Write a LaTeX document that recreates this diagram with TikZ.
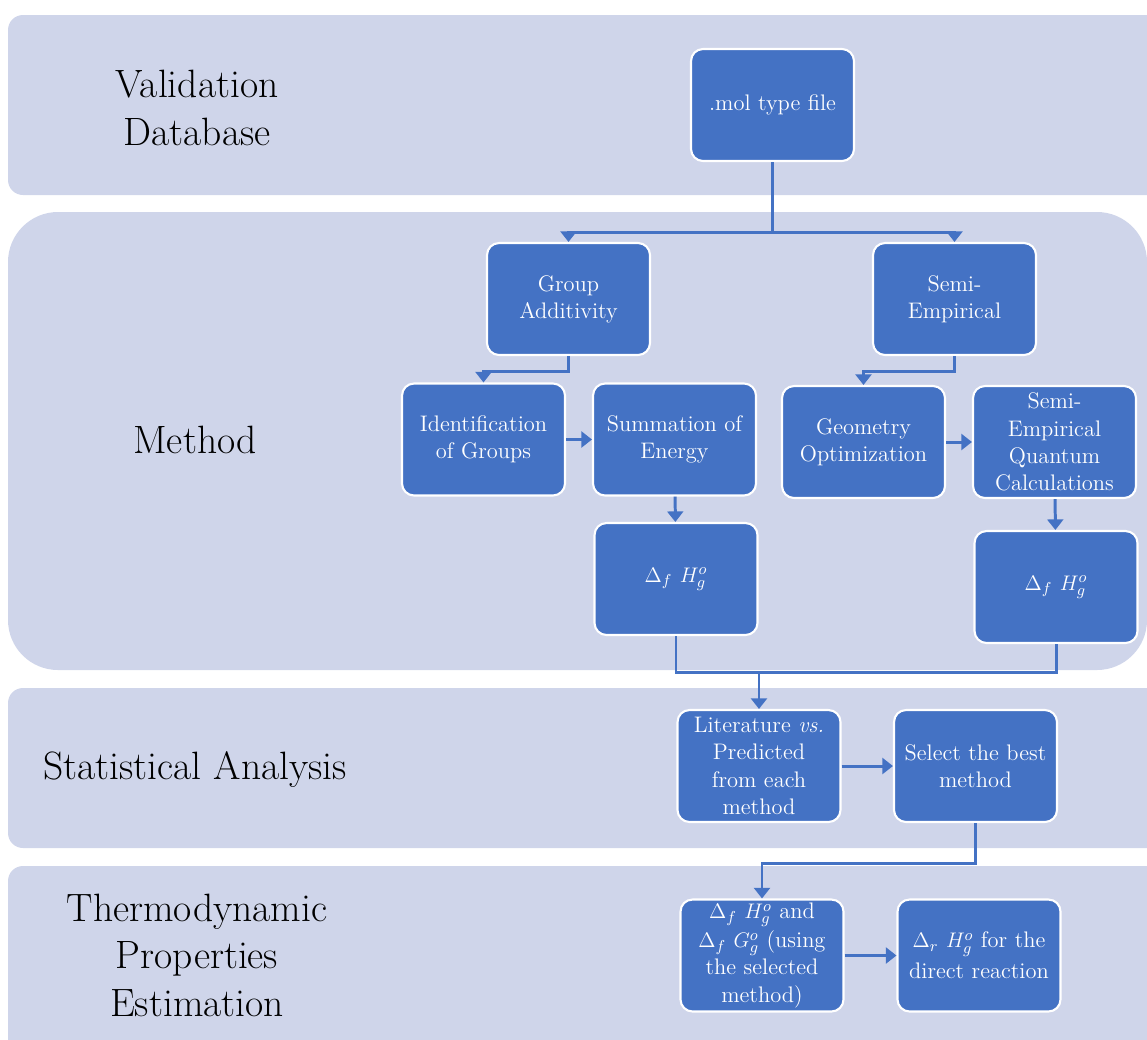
\documentclass[tikz,border=0pt]{standalone}
\usepackage{tikz}
\usetikzlibrary{arrows.meta,positioning,calc}

\definecolor{panelbg}{HTML}{CFD5EA}
\definecolor{boxblue}{HTML}{4472C4}

\begin{document}
\begin{tikzpicture}[
  x=0.02cm, y=-0.02cm,
  panel/.style={fill=panelbg, draw=none, rounded corners=0.3cm},
  box/.style={draw=white, line width=1.2pt, fill=boxblue, rounded corners=0.24cm,
    text=white, align=center, minimum width=3.26cm, minimum height=2.24cm,
    text width=3.1cm, inner sep=2pt, font=\fontsize{12.8}{15.5}\selectfont},
  stage/.style={align=center, font=\fontsize{22.5}{27}\selectfont},
  arrow/.style={draw=boxblue, line width=1.7pt, -{Triangle[width=9pt,length=6pt]}},
  line/.style={draw=boxblue, line width=1.7pt}
]
\useasboundingbox (0,0) rectangle (1147,1039);
\clip (0,0) rectangle (1147,1039);

% background bands
\fill[panel] (8,15) rectangle (1180,195);
\fill[panel, rounded corners=1cm] (8,212) rectangle (1147,670);
\fill[panel] (8,688) rectangle (1180,848);
\fill[panel] (8,866) rectangle (1180,1060);

% stage names
\node[stage] (lblval)  at (197,108) {Validation\\Database};
\node[stage] (lblmeth) at (195,440) {Method};
\node[stage] (lblstat) at (195,770) {Statistical Analysis};
\node[stage] (lblthermo) at (197,955) {Thermodynamic\\Properties\\Estimation};

% boxes
\node[box] (mol)   at (772.5,105) {.mol type file};
\node[box] (grp)   at (568.5,299) {Group\\Additivity};
\node[box] (semi)  at (954.5,299) {Semi-\\Empirical};
\node[box] (ident) at (483.5,439.5) {Identification\\of Groups};
\node[box] (summ)  at (674.5,439.5) {Summation of\\Energy};
\node[box] (dhl)   at (676,579) {$\Delta_f\ H_g^o$};
\node[box] (geom)  at (863.5,442) {Geometry\\Optimization};
\node[box] (quant) at (1054.5,442) {Semi-\\Empirical\\Quantum\\Calculations};
\node[box] (dhr)   at (1056,587) {$\Delta_f\ H_g^o$};
\node[box] (lit)   at (759,766) {Literature \textit{vs.}\\Predicted\\from each\\method};
\node[box] (sel)   at (975.5,766) {Select the best\\method};
\node[box] (dhg)   at (762,955.5) {$\Delta_f\ H_g^o$ and\\[1pt]$\Delta_f\ G_g^o$ (using\\the selected\\method)};
\node[box] (drh)   at (979,955.5) {$\Delta_r\ H_g^o$ for the\\[2pt]direct reaction};

% connectors
\coordinate (split) at (772.5,232);
\coordinate (merge) at (759,672);
\draw[line] (mol) -- (split);
\draw[arrow] (split) -| (grp);
\draw[arrow] (split) -| (semi);
\draw[arrow] (grp.south) -- ++(0,15) -| (ident.north);
\draw[arrow] (ident) -- (summ);
\draw[arrow] (summ) -- (dhl);
\draw[arrow] (semi.south) -- ++(0,15) -| (geom.north);
\draw[arrow] (geom) -- (quant);
\draw[arrow] (quant) -- (dhr);
\draw[line] (dhl.south) |- (merge) -| (dhr.south);
\draw[arrow] (merge) -- (lit);
\draw[arrow] (lit) -- (sel);
\draw[arrow] (sel.south) -- ++(0,40) -| (dhg.north);
\draw[arrow] (dhg) -- (drh);

\end{tikzpicture}
\end{document}
